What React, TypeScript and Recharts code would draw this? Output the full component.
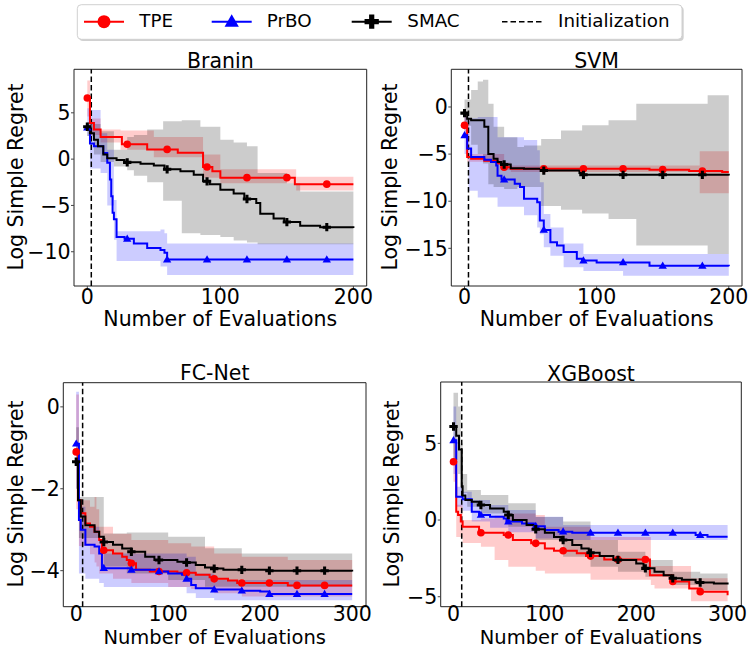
import React from 'react';
import { ComposedChart, Line, Area, XAxis, YAxis, ReferenceLine, ReferenceArea } from 'recharts';

const FONT = '"DejaVu Sans", sans-serif';
const RED = '#ff0000';
const BLUE = '#0000ff';
const BLACK = '#000000';

// ---------------- Branin ----------------
const braninTpeX = [0, 2, 5, 10, 26, 45, 68, 87, 94, 100, 156, 200];
const braninTpeMean = [6.6, 3.9, 3.2, 2.4, 1.6, 1.05, 0.7, -0.85, -1.3, -2.0, -2.7, -2.7];
const braninTpeBandX = [0, 2, 10, 25, 50, 87, 100, 157, 200];
const braninTpeLo = [4.6, 2.6, 1.8, 1.0, 0.2, -2.0, -2.6, -3.4, -3.4];
const braninTpeHi = [8.5, 4.4, 3.2, 3.1, 2.4, 0.5, -1.1, -1.9, -1.9];

const braninSmacX = [0, 2, 5, 8, 12, 15, 22, 28, 40, 50, 58, 70, 80, 87, 92, 100, 110, 118, 127, 130, 140, 148, 160, 175, 200];
const braninSmacMean = [3.5, 2.8, 2.1, 1.4, 0.5, 0.1, -0.1, -0.35, -0.5, -0.7, -1.1, -1.3, -1.7, -2.4, -2.7, -3.3, -3.7, -4.3, -4.75, -5.9, -6.4, -6.8, -7.2, -7.35, -7.45];
const braninSmacBandX = [0, 5, 10, 20, 30, 35, 45, 57, 71, 85, 100, 110, 120, 128, 150, 160, 200];
const braninSmacLo = [2.5, 0.5, -0.3, -0.8, -1.2, -1.8, -2.5, -4.5, -8.0, -8.2, -8.4, -8.8, -9.0, -9.2, -9.2, -9.2, -9.2];
const braninSmacHi = [4.0, 3.8, 3.0, 1.0, 2.4, 2.6, 3.2, 4.1, 4.2, 3.5, 2.1, 1.8, 1.4, -1.5, -2.6, -3.5, -3.5];

const braninPrboX = [0, 2, 5, 12, 15, 17, 18, 19, 20, 22, 28, 35, 45, 55, 58, 60, 200];
const braninPrboMean = [3.4, 1.7, 1.4, 0.65, -0.4, -2.2, -4.0, -5.8, -6.5, -8.4, -8.6, -9.1, -9.6, -9.8, -10.1, -10.85, -10.85];
const braninPrboBandX = [0, 2, 10, 15, 20, 22, 55, 58, 60, 200];
const braninPrboLo = [2.5, -1.0, -1.5, -5.0, -8.7, -11.0, -11.6, -11.6, -12.5, -12.5];
const braninPrboHi = [5.5, 5.3, 2.8, 1.0, -4.4, -7.8, -7.6, -8.0, -9.1, -9.1];

// ---------------- SVM ----------------
const svmTpeX = [0, 2, 5, 15, 25, 28, 35, 140, 170, 195, 200];
const svmTpeMean = [-1.95, -5.3, -5.5, -5.7, -6.0, -6.4, -6.55, -6.65, -6.8, -6.9, -6.9];
const svmTpeBandX = [0, 2, 30, 35, 178, 200];
const svmTpeLo = [-3.0, -5.8, -6.7, -6.9, -9.15, -9.15];
const svmTpeHi = [-0.5, -5.0, -5.9, -6.2, -4.7, -4.7];

const svmSmacX = [0, 2, 5, 15, 18, 22, 25, 28, 35, 45, 58, 87, 89, 200];
const svmSmacMean = [-0.65, -1.25, -1.4, -2.1, -5.0, -5.5, -5.85, -6.1, -6.5, -6.55, -6.75, -7.0, -7.2, -7.27];
const svmSmacBandX = [0, 5, 10, 14, 18, 22, 30, 40, 45, 58, 73, 89, 109, 130, 184, 200];
const svmSmacLo = [-2.0, -4.0, -5.0, -6.0, -8.2, -8.5, -8.7, -8.5, -8.5, -10.5, -10.9, -11.3, -11.9, -14.7, -15.6, -15.6];
const svmSmacHi = [0.8, 1.8, 2.7, 2.9, 0.35, -2.1, -3.2, -4.25, -4.1, -3.4, -2.5, -1.95, -1.4, 0.35, 1.25, 1.25];

const svmPrboX = [0, 2, 5, 15, 20, 24, 25, 28, 38, 42, 45, 55, 57, 60, 65, 70, 75, 85, 89, 100, 140, 200];
const svmPrboMean = [-3.0, -4.4, -5.3, -5.6, -5.85, -6.2, -7.3, -7.7, -8.15, -8.5, -9.75, -10.1, -12.05, -13.05, -14.35, -14.7, -15.4, -16.1, -16.3, -16.5, -16.85, -16.9];
const svmPrboBandX = [0, 3, 10, 25, 45, 55, 57, 60, 65, 75, 90, 120, 200];
const svmPrboLo = [-5.0, -8.9, -9.6, -10.6, -11.5, -12.8, -13.5, -14.9, -15.8, -17.0, -17.4, -17.9, -18.1];
const svmPrboHi = [-1.0, -1.2, -1.06, -3.2, -3.5, -4.6, -8.0, -11.35, -12.8, -14.5, -15.6, -15.6, -15.6];

// ---------------- FC-Net ----------------
const fcTpeX = [0, 2, 5, 10, 15, 20, 25, 28, 40, 50, 55, 58, 65, 80, 110, 130, 145, 150, 165, 175, 230, 300];
const fcTpeMean = [-1.1, -2.28, -2.6, -2.85, -2.93, -3.05, -3.25, -3.5, -3.58, -3.66, -3.74, -3.82, -3.98, -4.02, -4.05, -4.1, -4.16, -4.2, -4.24, -4.3, -4.36, -4.36];
const fcTpeBandX = [0, 3, 15, 20, 22, 25, 40, 60, 100, 125, 150, 180, 230, 300];
const fcTpeLo = [-2.5, -3.4, -3.6, -3.8, -3.9, -4.07, -4.2, -4.3, -4.4, -4.45, -4.55, -4.63, -4.63, -4.63];
const fcTpeHi = [0.3, -2.28, -2.44, -2.2, -2.5, -2.93, -3.1, -3.25, -3.33, -3.41, -3.58, -3.66, -3.74, -3.74];

const fcSmacX = [0, 2, 5, 10, 20, 25, 30, 40, 50, 60, 75, 85, 110, 120, 130, 140, 150, 160, 210, 300];
const fcSmacMean = [-1.34, -2.28, -2.68, -2.89, -3.05, -3.17, -3.3, -3.37, -3.46, -3.54, -3.66, -3.74, -3.78, -3.8, -3.86, -3.92, -3.95, -3.98, -4.0, -4.02];
const fcSmacBandX = [0, 3, 30, 55, 100, 140, 180, 300];
const fcSmacLo = [-2.0, -3.2, -3.9, -4.07, -4.23, -4.39, -4.39, -4.39];
const fcSmacHi = [-0.5, -2.2, -3.09, -3.07, -3.17, -3.45, -3.58, -3.66];

const fcPrboX = [0, 3, 5, 10, 20, 25, 28, 60, 90, 100, 115, 120, 125, 130, 150, 180, 200, 210, 300];
const fcPrboMean = [-0.9, -2.76, -3.0, -3.37, -3.41, -3.58, -3.94, -3.98, -4.02, -4.07, -4.1, -4.2, -4.35, -4.43, -4.46, -4.49, -4.51, -4.57, -4.57];
const fcPrboBandX = [0, 3, 10, 25, 30, 120, 130, 150, 300];
const fcPrboLo = [-2.0, -4.07, -4.2, -4.3, -4.4, -4.55, -4.67, -4.72, -4.72];
const fcPrboHi = [0.37, -2.44, -2.93, -3.25, -3.58, -3.66, -4.07, -4.23, -4.3];

// ---------------- XGBoost ----------------
const xgbTpeX = [0, 3, 5, 8, 10, 28, 55, 65, 85, 100, 110, 135, 145, 165, 215, 240, 258, 270, 300];
const xgbTpeMean = [3.8, 0.54, 0.33, -0.1, -0.43, -0.83, -0.98, -1.3, -1.52, -1.85, -2.0, -2.17, -2.35, -2.57, -3.6, -4.0, -4.46, -4.67, -4.9];
const xgbTpeBandX = [0, 3, 10, 30, 45, 60, 90, 100, 150, 216, 220, 260, 300];
const xgbTpeLo = [2.5, -1.1, -1.5, -1.74, -2.6, -3.04, -3.3, -3.48, -3.9, -4.24, -4.46, -5.3, -5.4];
const xgbTpeHi = [5.2, 1.0, 0.0, 0.1, 0.3, 0.43, 0.33, -0.43, -1.1, -3.0, -3.0, -3.8, -4.13];

const xgbSmacX = [0, 3, 6, 9, 10, 13, 20, 28, 40, 55, 60, 65, 80, 88, 100, 110, 118, 130, 140, 148, 160, 175, 200, 208, 220, 230, 238, 250, 265, 285, 300];
const xgbSmacMean = [6.1, 5.5, 4.6, 2.2, 1.6, 1.3, 1.2, 0.98, 0.76, 0.54, 0.33, 0.0, -0.33, -0.6, -0.83, -1.1, -1.3, -1.63, -1.85, -2.13, -2.35, -2.6, -2.83, -3.15, -3.37, -3.6, -3.8, -3.9, -4.07, -4.13, -4.2];
const xgbSmacBandX = [0, 5, 8, 10, 15, 30, 60, 90, 120, 150, 180, 210, 240, 270, 300];
const xgbSmacLo = [3.9, 3.0, 2.0, 1.74, 0.87, 0.43, -0.43, -1.3, -2.4, -3.04, -3.37, -3.7, -4.24, -4.57, -4.78];
const xgbSmacHi = [8.3, 7.4, 5.0, 3.0, 1.96, 1.63, 1.09, 0.2, -0.1, -1.3, -2.07, -2.6, -3.37, -3.48, -3.6];

const xgbPrboX = [0, 3, 10, 20, 28, 40, 55, 58, 75, 88, 100, 115, 130, 265, 278, 300];
const xgbPrboMean = [5.2, 1.52, 1.35, 0.54, 0.33, 0.22, 0.1, -0.1, -0.22, -0.4, -0.65, -0.76, -0.83, -0.98, -1.09, -1.09];
const xgbPrboBandX = [0, 3, 10, 20, 40, 60, 90, 120, 300];
const xgbPrboLo = [3.0, 0.87, 0.6, -0.1, -0.5, -0.8, -1.2, -1.3, -1.52];
const xgbPrboHi = [7.4, 2.17, 1.85, 1.3, 0.98, 0.65, 0.22, -0.33, -0.54];

// markers, ticks, init
const markers200 = [0, 30, 60, 90, 120, 150, 180];
const markers300 = [0, 30, 60, 90, 120, 150, 180, 210, 240, 270];
const xTicks200 = [0, 100, 200];
const xTicks300 = [0, 100, 200, 300];
const braninYTicks = [-10, -5, 0, 5];
const svmYTicks = [-15, -10, -5, 0];
const fcYTicks = [-4, -2, 0];
const xgbYTicks = [-5, 0, 5];

function stepValue(xs: number[], ys: number[], x: number) {
  let v = ys[0];
  for (let i = 0; i < xs.length; i++) if (xs[i] <= x) v = ys[i];
  return v;
}
function buildLine(xs: number[], ys: number[], mk: number[]) {
  const all = Array.from(new Set([...xs, ...mk])).sort((a, b) => a - b);
  return all.map((x) => ({ x, y: stepValue(xs, ys, x), m: mk.includes(x) }));
}
function buildBand(xs: number[], lo: number[], hi: number[]) {
  return xs.map((x, i) => ({ x, band: [lo[i], hi[i]] }));
}

type Kind = 'circle' | 'triangle' | 'plus';

function Marker({ kind, cx, cy, s, color }: { kind: Kind; cx: number; cy: number; s: number; color: string }) {
  if (kind === 'circle') return <circle cx={cx} cy={cy} r={s * 0.5} fill={color} />;
  if (kind === 'triangle') {
    const h = s * 0.95;
    const w = s * 0.55;
    return <polygon points={`${cx},${cy - h * 0.6} ${cx - w},${cy + h * 0.4} ${cx + w},${cy + h * 0.4}`} fill={color} />;
  }
  const a = s * 0.55;
  const t = s * 0.2;
  return (
    <path
      d={`M${cx - t},${cy - a}H${cx + t}V${cy - t}H${cx + a}V${cy + t}H${cx + t}V${cy + a}H${cx - t}V${cy + t}H${cx - a}V${cy - t}H${cx - t}Z`}
      fill={color}
    />
  );
}

const makeDot = (kind: Kind, color: string) => (props: any) => {
  const { cx, cy, payload, index } = props;
  if (!payload || !payload.m || cx == null || cy == null) return <g key={`e${index}`} />;
  return (
    <g key={`d${index}`}>
      <Marker kind={kind} cx={cx} cy={cy} s={7.6} color={color} />
    </g>
  );
};

const fmt = (v: number) => (v < 0 ? '\u2212' + Math.abs(v) : String(v));

type Panel = {
  left: number; top: number; w: number; h: number;
  mTop: number; mRight: number; yW: number; xH: number; xTickSize: number;
  xDomain: [number, number]; yDomain: [number, number];
  xTicks: number[]; yTicks: number[]; init: number; mk: number[];
  tpe: any[]; tpeBand: any[]; smac: any[]; smacBand: any[]; prbo: any[]; prboBand: any[];
};

const panels: Panel[] = [
  {
    left: 0, top: 40, w: 374, h: 300, mTop: 29.3, mRight: 7.3, yW: 74, xH: 54, xTickSize: 3,
    xDomain: [-10, 210], yDomain: [-13.7, 9.7], xTicks: xTicks200, yTicks: braninYTicks, init: 3, mk: markers200,
    tpe: buildLine(braninTpeX, braninTpeMean, markers200), tpeBand: buildBand(braninTpeBandX, braninTpeLo, braninTpeHi),
    smac: buildLine(braninSmacX, braninSmacMean, markers200), smacBand: buildBand(braninSmacBandX, braninSmacLo, braninSmacHi),
    prbo: buildLine(braninPrboX, braninPrboMean, markers200), prboBand: buildBand(braninPrboBandX, braninPrboLo, braninPrboHi),
  },
  {
    left: 374, top: 40, w: 374, h: 300, mTop: 29.3, mRight: 6, yW: 77.3, xH: 54, xTickSize: 3,
    xDomain: [-10, 210], yDomain: [-19, 4], xTicks: xTicks200, yTicks: svmYTicks, init: 3, mk: markers200,
    tpe: buildLine(svmTpeX, svmTpeMean, markers200), tpeBand: buildBand(svmTpeBandX, svmTpeLo, svmTpeHi),
    smac: buildLine(svmSmacX, svmSmacMean, markers200), smacBand: buildBand(svmSmacBandX, svmSmacLo, svmSmacHi),
    prbo: buildLine(svmPrboX, svmPrboMean, markers200), prboBand: buildBand(svmPrboBandX, svmPrboLo, svmPrboHi),
  },
  {
    left: 0, top: 340, w: 374, h: 309, mTop: 42.7, mRight: 8, yW: 63.3, xH: 42.3, xTickSize: 0,
    xDomain: [-14, 315], yDomain: [-4.88, 0.59], xTicks: xTicks300, yTicks: fcYTicks, init: 7, mk: markers300,
    tpe: buildLine(fcTpeX, fcTpeMean, markers300), tpeBand: buildBand(fcTpeBandX, fcTpeLo, fcTpeHi),
    smac: buildLine(fcSmacX, fcSmacMean, markers300), smacBand: buildBand(fcSmacBandX, fcSmacLo, fcSmacHi),
    prbo: buildLine(fcPrboX, fcPrboMean, markers300), prboBand: buildBand(fcPrboBandX, fcPrboLo, fcPrboHi),
  },
  {
    left: 374, top: 340, w: 374, h: 309, mTop: 42, mRight: 6.7, yW: 66.7, xH: 42.3, xTickSize: 0,
    xDomain: [-14, 315], yDomain: [-5.65, 9.0], xTicks: xTicks300, yTicks: xgbYTicks, init: 9, mk: markers300,
    tpe: buildLine(xgbTpeX, xgbTpeMean, markers300), tpeBand: buildBand(xgbTpeBandX, xgbTpeLo, xgbTpeHi),
    smac: buildLine(xgbSmacX, xgbSmacMean, markers300), smacBand: buildBand(xgbSmacBandX, xgbSmacLo, xgbSmacHi),
    prbo: buildLine(xgbPrboX, xgbPrboMean, markers300), prboBand: buildBand(xgbPrboBandX, xgbPrboLo, xgbPrboHi),
  },
];

const titles = [
  { text: 'Branin', x: 220.3, y: 67.7 },
  { text: 'SVM', x: 596.7, y: 67.7 },
  { text: 'FC-Net', x: 214.7, y: 380 },
  { text: 'XGBoost', x: 591, y: 380.5 },
];
const yLabels = [
  { x: 23, y: 177 },
  { x: 397, y: 177 },
  { x: 23, y: 494 },
  { x: 398.5, y: 494 },
];
const xLabels = [
  { x: 220.3, y: 325.5, f: 20.5 },
  { x: 596.7, y: 325.5, f: 20.5 },
  { x: 214.7, y: 644.3, f: 19.5 },
  { x: 591, y: 644.3, f: 19.5 },
];

const tickStyle = { fontSize: 20.5, fill: '#000', fontFamily: FONT };

function PanelChart({ p }: { p: Panel }) {
  return (
    <div style={{ position: 'absolute', left: p.left, top: p.top, width: p.w, height: p.h }}>
      <ComposedChart width={p.w} height={p.h} margin={{ top: p.mTop, right: p.mRight, bottom: 0, left: 0 }}>
        <XAxis
          type="number"
          dataKey="x"
          domain={p.xDomain}
          allowDataOverflow
          ticks={p.xTicks}
          height={p.xH}
          axisLine={false}
          tickLine={p.xTickSize > 0 ? { stroke: '#444' } : false}
          tickSize={p.xTickSize}
          tickMargin={0}
          tick={tickStyle}
          tickFormatter={fmt}
          interval={0}
        />
        <YAxis
          type="number"
          domain={p.yDomain}
          allowDataOverflow
          ticks={p.yTicks}
          width={p.yW}
          axisLine={false}
          tickLine={{ stroke: '#444' }}
          tickSize={3}
          tickMargin={0.5}
          tick={tickStyle}
          tickFormatter={fmt}
          interval={0}
        />
        <Area data={p.tpeBand} dataKey="band" type="stepAfter" stroke="none" fill={RED} fillOpacity={0.2} isAnimationActive={false} activeDot={false} />
        <Area data={p.prboBand} dataKey="band" type="stepAfter" stroke="none" fill={BLUE} fillOpacity={0.2} isAnimationActive={false} activeDot={false} />
        <Area data={p.smacBand} dataKey="band" type="stepAfter" stroke="none" fill={BLACK} fillOpacity={0.2} isAnimationActive={false} activeDot={false} />
        <ReferenceLine x={p.init} stroke="#000" strokeWidth={1.5} strokeDasharray="5.5 3" />
        <Line data={p.tpe} dataKey="y" type="stepAfter" stroke={RED} strokeWidth={2} dot={makeDot('circle', RED)} activeDot={false} isAnimationActive={false} />
        <Line data={p.prbo} dataKey="y" type="stepAfter" stroke={BLUE} strokeWidth={2} dot={makeDot('triangle', BLUE)} activeDot={false} isAnimationActive={false} />
        <Line data={p.smac} dataKey="y" type="stepAfter" stroke={BLACK} strokeWidth={2} dot={makeDot('plus', BLACK)} activeDot={false} isAnimationActive={false} />
        <ReferenceArea
          x1={p.xDomain[0]}
          x2={p.xDomain[1]}
          y1={p.yDomain[0]}
          y2={p.yDomain[1]}
          fill="none"
          fillOpacity={0}
          stroke="#222"
          strokeWidth={1}
          ifOverflow="visible"
        />
      </ComposedChart>
    </div>
  );
}

const legendItems: { label: string; kind: Kind | 'dash'; color: string; lx: number; tx: number }[] = [
  { label: 'TPE', kind: 'circle', color: RED, lx: 84, tx: 139.3 },
  { label: 'PrBO', kind: 'triangle', color: BLUE, lx: 211.7, tx: 266.7 },
  { label: 'SMAC', kind: 'plus', color: BLACK, lx: 351.7, tx: 407.3 },
  { label: 'Initialization', kind: 'dash', color: BLACK, lx: 502, tx: 558 },
];

function Overlay() {
  const ly = 21.7;
  return (
    <svg width={748} height={649} style={{ position: 'absolute', left: 0, top: 0, pointerEvents: 'none' }}>
      <rect x={79} y={6.5} width={604.7} height={34.6} rx={4} fill="#b0b0b0" opacity={0.6} />
      <rect x={77.3} y={4.7} width={604.7} height={34.6} rx={4} fill="#fff" stroke="#d0d0d0" strokeWidth={1} />
      {legendItems.map((it) => (
        <g key={it.label}>
          {it.kind === 'dash' ? (
            <line x1={it.lx} x2={it.lx + 40} y1={ly} y2={ly} stroke="#000" strokeWidth={1.5} strokeDasharray="5.5 3" />
          ) : (
            <>
              <line x1={it.lx} x2={it.lx + 40} y1={ly} y2={ly} stroke={it.color} strokeWidth={2} />
              <Marker kind={it.kind} cx={it.lx + 20} cy={ly} s={13} color={it.color} />
            </>
          )}
          <text x={it.tx} y={27.3} fontSize={18.3} fontFamily={FONT} fill="#000">
            {it.label}
          </text>
        </g>
      ))}
      {titles.map((t) => (
        <text key={t.text} x={t.x} y={t.y} textAnchor="middle" fontSize={20.5} fontFamily={FONT} fill="#000">
          {t.text}
        </text>
      ))}
      {yLabels.map((l, i) => (
        <text
          key={'yl' + i}
          transform={`translate(${l.x},${l.y}) rotate(-90)`}
          textAnchor="middle"
          fontSize={20.5}
          fontFamily={FONT}
          fill="#000"
        >
          Log Simple Regret
        </text>
      ))}
      {xLabels.map((l, i) => (
        <text key={'xl' + i} x={l.x} y={l.y} textAnchor="middle" fontSize={l.f} fontFamily={FONT} fill="#000">
          Number of Evaluations
        </text>
      ))}
    </svg>
  );
}

export default function App() {
  return (
    <div style={{ position: 'absolute', left: 0, top: 0, width: 748, height: 649, background: '#fff', fontFamily: FONT, overflow: 'hidden' }}>
      {panels.map((p, i) => (
        <PanelChart key={i} p={p} />
      ))}
      <Overlay />
    </div>
  );
}
